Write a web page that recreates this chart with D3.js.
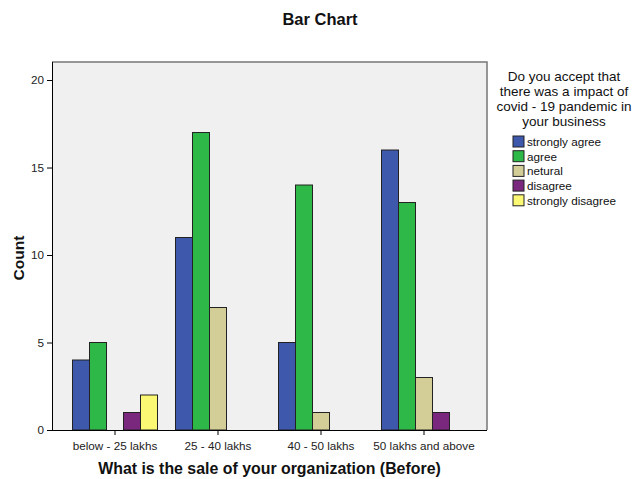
<!DOCTYPE html>
<html>
<head>
<meta charset="utf-8">
<script src="https://cdn.jsdelivr.net/npm/d3@7"></script>
<style>
  body { margin: 0; background: #fff; }
  svg { font-family: "Liberation Sans", Arial, sans-serif; }
</style>
</head>
<body>
<svg id="chart" width="635" height="479"></svg>
<script>
// categories on x
const categories = ['below - 25 lakhs', '25 - 40 lakhs', '40 - 50 lakhs', '50 lakhs and above'];
// answers (legend)
const answers = ['strongly agree', 'agree', 'netural', 'disagree', 'strongly disagree'];
const answerColors = ['#3E58AC', '#2EB848', '#D3CE97', '#79287D', '#FBF873'];
// counts, one row per category, in answer order
const counts = [
    [4, 5, 0, 1, 2],
    [11, 17, 7, 0, 0],
    [5, 14, 1, 0, 0],
    [16, 13, 3, 1, 0]
];
const yTicks = [0, 5, 10, 15, 20];

const svg = d3.select('#chart');
const plot = {left: 52, right: 487, top: 62, bottom: 430};

let x = d3.scaleBand().domain(categories).range([plot.left + 11.5, plot.right - 11.5]);
let inner = d3.scaleBand().domain(answers).range([-42.5, 42.5]);
let y = d3.scaleLinear().domain([0, 21.03]).range([plot.bottom, plot.top]);

///// plot background /////
svg.append('rect')
    .attr('x', plot.left).attr('y', plot.top)
    .attr('width', plot.right - plot.left).attr('height', plot.bottom - plot.top)
    .attr('fill', '#F0F0F0');
svg.append('path')
    .attr('d', `M${plot.left},${plot.top}H${plot.right}V${plot.bottom}`)
    .attr('fill', 'none').attr('stroke', '#777').attr('stroke-width', 1.5);

///// bars /////
let groups = svg.append('g').selectAll('g').data(counts).enter().append('g')
    .attr('transform', (d, i) => 'translate(' + (x(categories[i]) + x.bandwidth() / 2) + ',0)');

groups.selectAll('rect').data(d => d.map((v, j) => ({v: v, key: answers[j], color: answerColors[j]})))
    .enter().filter(d => d.v > 0).append('rect')
    .attr('x', d => inner(d.key))
    .attr('width', inner.bandwidth())
    .attr('y', d => y(d.v))
    .attr('height', d => y(0) - y(d.v))
    .attr('fill', d => d.color)
    .attr('stroke', '#222').attr('stroke-width', 1);

///// axes /////
let yAxis = svg.append('g').attr('transform', `translate(${plot.left},0)`)
    .call(d3.axisLeft(y).tickValues(yTicks).tickSize(5).tickSizeOuter(0));
yAxis.select('.domain').attr('d', `M0.5,${plot.top}V${plot.bottom}`).attr('stroke', '#000');
yAxis.selectAll('text').attr('font-size', 11.7).attr('fill', '#222')
    .attr('font-family', '"Liberation Sans", Arial, sans-serif');

let xAxis = svg.append('g').attr('transform', `translate(0,${plot.bottom})`)
    .call(d3.axisBottom(x).tickSize(5).tickSizeOuter(0));
xAxis.select('.domain').attr('d', `M${plot.left},0.5H${plot.right}`).attr('stroke', '#000');
xAxis.selectAll('text').attr('font-size', 11.7).attr('fill', '#222').attr('dy', '1.05em')
    .attr('font-family', '"Liberation Sans", Arial, sans-serif');

///// titles /////
svg.append('text').text('Bar Chart')
    .attr('x', 320).attr('y', 25).attr('text-anchor', 'middle')
    .attr('font-size', 16.5).attr('font-weight', 'bold').attr('fill', '#111');

svg.append('text').text('Count')
    .attr('transform', 'translate(24,' + ((plot.top + plot.bottom) / 2 + 12) + ') rotate(-90)')
    .attr('text-anchor', 'middle')
    .attr('font-size', 15.5).attr('font-weight', 'bold').attr('fill', '#111');

svg.append('text').text('What is the sale of your organization (Before)')
    .attr('x', (plot.left + plot.right) / 2).attr('y', 474).attr('text-anchor', 'middle')
    .attr('font-size', 15.9).attr('font-weight', 'bold').attr('fill', '#111');

///// legend /////
const legendTitle = ['Do you accept that', 'there was a impact of', 'covid - 19 pandemic in', 'your business'];
svg.append('g').selectAll('text').data(legendTitle).enter().append('text')
    .text(d => d)
    .attr('x', 564).attr('y', (d, i) => 81 + i * 15)
    .attr('text-anchor', 'middle').attr('font-size', 13.5).attr('fill', '#111');

let legend = svg.append('g').selectAll('g').data(answers).enter().append('g')
    .attr('transform', (d, i) => 'translate(513,' + (136 + i * 14.7) + ')');
legend.append('rect').attr('width', 11).attr('height', 11)
    .attr('fill', (d, i) => answerColors[i]).attr('stroke', '#222');
legend.append('text').text(d => d)
    .attr('x', 14).attr('y', 10).attr('font-size', 11.7).attr('fill', '#111');
</script>
</body>
</html>
